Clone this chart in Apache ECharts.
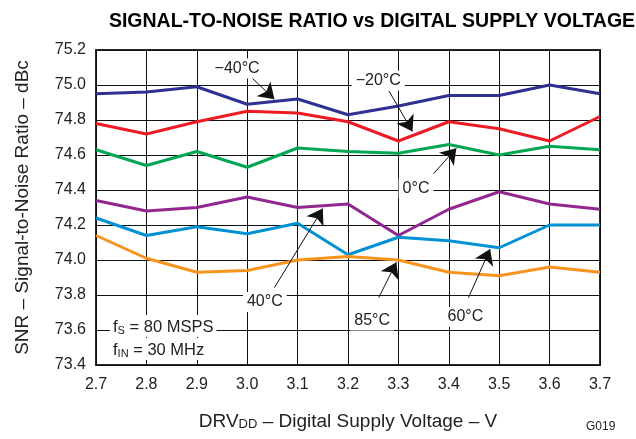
<!DOCTYPE html>
<html>
<head>
<meta charset="utf-8">
<title>SNR vs Digital Supply Voltage</title>
<script src="https://cdn.jsdelivr.net/npm/echarts@6/dist/echarts.min.js"></script>
<style>html,body{margin:0;background:#fff;}</style>
</head>
<body>
<div id="main" style="width:636px;height:439px;"></div>
<script>
// DRVDD supply voltage (V)
var voltage = [2.7, 2.8, 2.9, 3.0, 3.1, 3.2, 3.3, 3.4, 3.5, 3.6, 3.7];

// SNR (dBc) per temperature
var snrM40 = [74.95, 74.96, 74.99, 74.89, 74.92, 74.83, 74.88, 74.94, 74.94, 75.00, 74.95];
var snrM20 = [74.78, 74.72, 74.79, 74.85, 74.84, 74.79, 74.68, 74.79, 74.75, 74.68, 74.82];
var snr0   = [74.63, 74.54, 74.62, 74.53, 74.64, 74.62, 74.61, 74.66, 74.60, 74.65, 74.63];
var snr40  = [74.34, 74.28, 74.30, 74.36, 74.30, 74.32, 74.14, 74.29, 74.39, 74.32, 74.29];
var snr60  = [74.24, 74.14, 74.19, 74.15, 74.21, 74.03, 74.13, 74.11, 74.07, 74.20, 74.20];
var snr85  = [74.14, 74.01, 73.93, 73.94, 74.00, 74.02, 74.00, 73.93, 73.91, 73.96, 73.93];

var tempNames = ['\u221240\u00b0C', '\u221220\u00b0C', '0\u00b0C', '40\u00b0C', '60\u00b0C', '85\u00b0C'];
var tempColors = ['#2e3192', '#ed1c24', '#00a651', '#92278f', '#0091d5', '#f7941d'];
var tempData = [snrM40, snrM20, snr0, snr40, snr60, snr85];

// callout text spots and arrows, in data units
var labelAt   = [[2.98, 75.095], [3.26, 75.025], [3.335, 74.41], [3.035, 73.76], [3.433, 73.675], [3.248, 73.655]];
var arrowFrom = [[3.008, 75.044], [3.281, 74.967], [3.37, 74.494], [3.054, 73.842], [3.439, 73.785], [3.261, 73.785]];
var arrowTo   = [[3.054, 74.919], [3.328, 74.735], [3.415, 74.639], [3.150, 74.294], [3.482, 74.063], [3.296, 73.987]];

var font = 'Liberation Sans, Arial, sans-serif';

var myChart = echarts.init(document.getElementById('main'));

var series = tempData.map(function (vals, i) {
    return {
        name: tempNames[i],
        type: 'line',
        symbol: 'none',
        silent: true,
        lineStyle: { color: tempColors[i], width: 3 },
        data: voltage.map(function (v, k) { return [v, vals[k]]; })
    };
});

// callouts: arrows + boxed labels
series.push({
    type: 'line',
    data: [],
    silent: true,
    z: 5,
    markLine: {
        silent: true,
        animation: false,
        symbol: ['none', 'arrow'],
        symbolSize: 15,
        label: { show: false },
        lineStyle: { color: '#111', width: 1, type: 'solid' },
        data: arrowFrom.map(function (p, i) {
            return [{ coord: p }, { coord: arrowTo[i] }];
        })
    },
    markPoint: {
        silent: true,
        animation: false,
        symbol: 'rect',
        symbolSize: 1,
        itemStyle: { color: 'rgba(0,0,0,0)' },
        label: {
            show: true,
            position: 'inside',
            color: '#222',
            fontFamily: font,
            fontSize: 16,
            backgroundColor: '#fff',
            padding: [2, 4],
            formatter: function (p) { return p.name; }
        },
        data: labelAt.map(function (p, i) {
            return { name: tempNames[i], coord: p };
        })
    }
});

var option = {
    backgroundColor: '#fff',
    animation: false,
    title: {
        text: 'SIGNAL-TO-NOISE RATIO vs DIGITAL SUPPLY VOLTAGE',
        left: 367,
        textAlign: 'center',
        top: 7,
        textStyle: { fontFamily: font, fontSize: 19.5, fontWeight: 'bold', color: '#000' }
    },
    grid: {
        left: 96, right: 36, top: 50, bottom: 74,
        show: true,
        borderColor: '#2a2a2a',
        borderWidth: 2
    },
    xAxis: {
        type: 'value',
        min: 2.7,
        max: 3.7,
        interval: 0.1,
        name: '{n|DRV}{s|DD}{n| \u2013 Digital Supply Voltage \u2013 V}',
        nameLocation: 'middle',
        nameGap: 44,
        nameTextStyle: {
            rich: {
                n: { fontFamily: font, fontSize: 19, color: '#222', lineHeight: 22, verticalAlign: 'bottom' },
                s: { fontFamily: font, fontSize: 13, color: '#222', lineHeight: 12, verticalAlign: 'bottom' }
            }
        },
        axisLine: { show: false },
        axisTick: { show: false },
        axisLabel: {
            margin: 12,
            color: '#222',
            fontFamily: font,
            fontSize: 16,
            formatter: function (v) { return v.toFixed(1); }
        },
        splitLine: { show: true, lineStyle: { color: '#111', width: 1 } }
    },
    yAxis: {
        type: 'value',
        min: 73.4,
        max: 75.2,
        interval: 0.2,
        name: 'SNR \u2013 Signal-to-Noise Ratio \u2013 dBc',
        nameLocation: 'middle',
        nameRotate: 90,
        nameGap: 64,
        nameTextStyle: { fontFamily: font, fontSize: 19, color: '#222' },
        axisLine: { show: false },
        axisTick: { show: false },
        axisLabel: {
            margin: 10,
            color: '#222',
            fontFamily: font,
            fontSize: 16,
            formatter: function (v) { return v.toFixed(1); }
        },
        splitLine: { show: true, lineStyle: { color: '#111', width: 1 } }
    },
    graphic: [
        {
            type: 'text',
            left: 110,
            top: 315,
            z: 100,
            style: {
                text: '{n|f}{s|S}{n| = 80 MSPS}',
                backgroundColor: '#fff',
                padding: [1, 3],
                rich: {
                    n: { fontFamily: font, fontSize: 16.5, fill: '#222', lineHeight: 20, verticalAlign: 'bottom' },
                    s: { fontFamily: font, fontSize: 11, fill: '#222', lineHeight: 11, verticalAlign: 'bottom' }
                }
            }
        },
        {
            type: 'text',
            left: 110,
            top: 338,
            z: 100,
            style: {
                text: '{n|f}{s|IN}{n| = 30 MHz}',
                backgroundColor: '#fff',
                padding: [1, 3],
                rich: {
                    n: { fontFamily: font, fontSize: 16.5, fill: '#222', lineHeight: 20, verticalAlign: 'bottom' },
                    s: { fontFamily: font, fontSize: 11, fill: '#222', lineHeight: 11, verticalAlign: 'bottom' }
                }
            }
        },
        {
            type: 'text',
            left: 586,
            top: 421,
            style: { text: 'G019', fontFamily: font, fontSize: 12, fill: '#222' }
        }
    ],
    series: series
};

myChart.setOption(option);
window.addEventListener('resize', function () {
    myChart.resize();
});
</script>
</body>
</html>
